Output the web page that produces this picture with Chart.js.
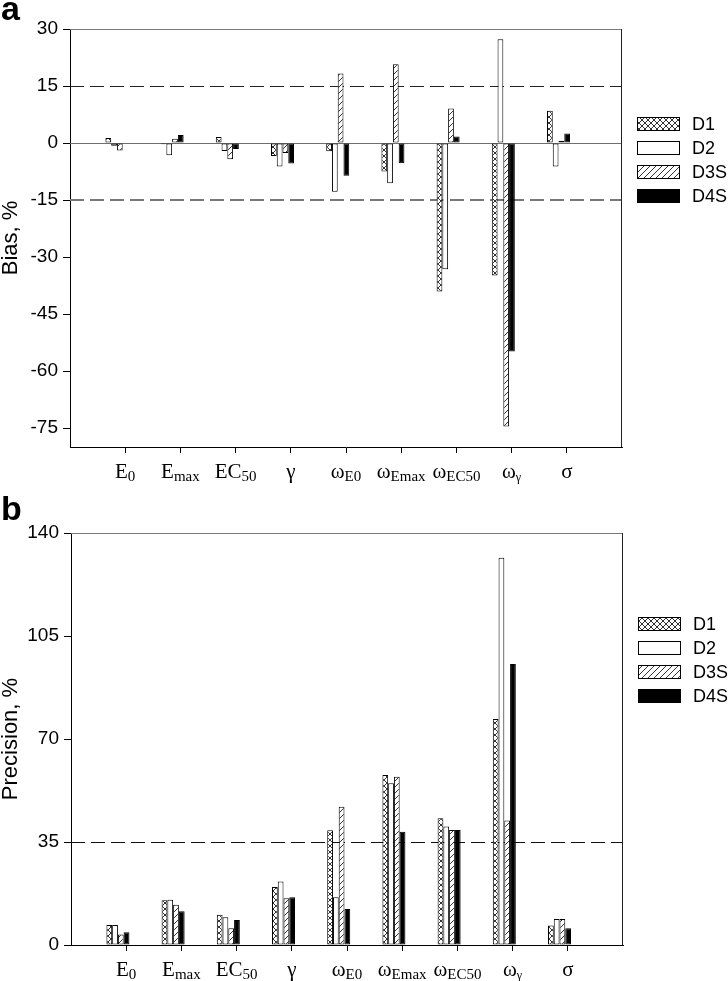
<!DOCTYPE html>
<html>
<head>
<meta charset="utf-8">
<script src="https://cdn.jsdelivr.net/npm/chart.js@4.4.0/dist/chart.umd.min.js"></script>
<style>
  html, body { margin: 0; padding: 0; background: #fff; }
  #wrap { position: relative; width: 728px; height: 981px; }
  canvas { position: absolute; left: 0; }
  #biasChart { top: 0; }
  #precChart { top: 480px; }
</style>
</head>
<body>
<div id="wrap">
  <canvas id="biasChart" width="728" height="490"></canvas>
  <canvas id="precChart" width="728" height="501"></canvas>
</div>
<script>
/* ===== data ===== */
const catMain = ["E", "E", "EC", "γ", "ω", "ω", "ω", "ω", "σ"];
const catSub = ["0", "max", "50", "", "E0", "Emax", "EC50", "γ", ""];
const seriesNames = ["D1", "D2", "D3S", "D4S"];

// panel a: bias, %
const biasD1 = [1.3, -0.3, 1.6, -3.4, -2.2, -7.5, -39.1, -34.9, 8.5];
const biasD2 = [-0.7, -3.2, -2.1, -6.2, -12.8, -10.6, -33.2, 27.3, -6.2];
const biasD3S = [-2.0, 1.1, -4.3, -2.6, 18.3, 20.7, 9.1, -74.6, 0.6];
const biasD4S = [0, 2.1, -1.6, -5.4, -8.6, -5.3, 1.7, -54.9, 2.5];
const biasTicks = [-75, -60, -45, -30, -15, 0, 15, 30];
const biasRefs = [15, -15];

// panel b: precision, %
const precD1 = [6.8, 15.2, 10.3, 19.7, 39.0, 57.8, 43.1, 76.8, 6.6];
const precD2 = [6.8, 15.4, 9.4, 21.6, 16.2, 55.0, 40.3, 131.6, 8.8];
const precD3S = [3.6, 13.7, 5.7, 15.9, 47.0, 57.2, 39.1, 42.3, 8.8];
const precD4S = [4.3, 11.5, 8.5, 16.2, 12.2, 38.5, 39.1, 95.5, 5.7];
const precTicks = [0, 35, 70, 105, 140];
const precRefs = [35];

/* ===== fills ===== */
function makePattern(kind) {
    const c = document.createElement("canvas");
    c.width = c.height = 6;
    const g = c.getContext("2d");
    g.fillStyle = "#fff";
    g.fillRect(0, 0, 6, 6);
    g.strokeStyle = "#000";
    g.lineWidth = 0.8;
    g.beginPath();
    g.moveTo(0, 6); g.lineTo(6, 0);
    g.moveTo(-1, 1); g.lineTo(1, -1);
    g.moveTo(5, 7); g.lineTo(7, 5);
    if (kind === "cross") {
        g.moveTo(0, 0); g.lineTo(6, 6);
        g.moveTo(-1, 5); g.lineTo(1, 7);
        g.moveTo(5, -1); g.lineTo(7, 1);
    }
    g.stroke();
    return g.createPattern(c, "repeat");
}
const fills = [makePattern("cross"), "#ffffff", makePattern("hatch"), "#000000"];

const SANS = "'Liberation Sans', Arial, sans-serif";
const SERIF = "'Liberation Serif', 'Times New Roman', serif";

/* ===== frame, ref lines, axis labels, legend ===== */
const panelDeco = {
    id: "panelDeco",
    beforeDatasetsDraw(chart, args, o) {
        const { ctx, chartArea: a, scales: { y } } = chart;
        ctx.save();
        if (o.zeroLine) {
            const py = Math.round(y.getPixelForValue(0)) + 0.5;
            ctx.strokeStyle = "#6e6e6e";
            ctx.lineWidth = 1;
            ctx.beginPath();
            ctx.moveTo(a.left, py);
            ctx.lineTo(a.right, py);
            ctx.stroke();
        }
        o.refs.forEach((v, i) => {
            const w = o.refWidths[i];
            let py = Math.round(y.getPixelForValue(v));
            if (w % 2 === 1) py += 0.5;
            ctx.strokeStyle = o.refColors[i];
            ctx.lineWidth = w;
            ctx.setLineDash([14, 6]);
            ctx.beginPath();
            ctx.moveTo(a.left, py);
            ctx.lineTo(a.right, py);
            ctx.stroke();
        });
        ctx.restore();
    },
    afterDraw(chart, args, o) {
        const { ctx, chartArea: a, scales: { x } } = chart;
        ctx.save();

        // top and right frame
        ctx.lineWidth = 1;
        ctx.strokeStyle = "#777";
        ctx.beginPath();
        ctx.moveTo(a.left, a.top + 0.5);
        ctx.lineTo(a.right, a.top + 0.5);
        ctx.stroke();
        ctx.strokeStyle = "#222";
        ctx.beginPath();
        ctx.moveTo(a.right - 0.5, a.top);
        ctx.lineTo(a.right - 0.5, a.bottom);
        ctx.stroke();

        // category labels with subscripts
        ctx.fillStyle = "#000";
        ctx.textBaseline = "alphabetic";
        ctx.textAlign = "left";
        const base = a.bottom + 31;
        catMain.forEach((m, i) => {
            const sub = catSub[i];
            const subSize = sub === "γ" ? 12 : 15;
            ctx.font = "21px " + SERIF;
            const mw = ctx.measureText(m).width;
            ctx.font = subSize + "px " + SERIF;
            const sw = sub ? ctx.measureText(sub).width : 0;
            const x0 = x.getPixelForValue(i + 1) - (mw + sw) / 2;
            ctx.font = "21px " + SERIF;
            ctx.fillText(m, x0, base);
            if (sub) {
                ctx.font = subSize + "px " + SERIF;
                ctx.fillText(sub, x0 + mw, base + 3);
            }
        });

        // legend
        const lx = a.right + 15;
        ctx.font = "18px " + SANS;
        ctx.textBaseline = "middle";
        chart.data.datasets.forEach((ds, i) => {
            const top = a.top + o.legendTop + i * 24;
            ctx.fillStyle = ds.backgroundColor;
            ctx.fillRect(lx, top, 43, 14);
            ctx.strokeStyle = "#000";
            ctx.lineWidth = 1;
            ctx.strokeRect(lx + 0.5, top + 0.5, 42, 13);
            ctx.fillStyle = "#000";
            ctx.fillText(ds.label, lx + 55, top + 8);
        });

        // panel letter
        ctx.font = "bold 34px " + SANS;
        ctx.textBaseline = "alphabetic";
        ctx.fillText(o.letter, 1, o.letterY);
        ctx.restore();
    }
};

function buildChart(id, cfg) {
    return new Chart(document.getElementById(id), {
        type: "bar",
        data: {
            datasets: seriesNames.map((name, s) => ({
                label: name,
                data: cfg.values[s].map((v, i) => ({ x: i + 1, y: v })),
                xAxisID: "xb",
                backgroundColor: fills[s],
                borderColor: "#000",
                borderWidth: 1,
                borderSkipped: false,
                categoryPercentage: 0.417,
                barPercentage: 1
            }))
        },
        options: {
            responsive: false,
            animation: false,
            events: [],
            layout: { padding: { top: cfg.top, right: cfg.right, left: 0, bottom: 0 } },
            plugins: {
                legend: { display: false },
                tooltip: { enabled: false },
                panelDeco: {
                    refs: cfg.refs,
                    refColors: cfg.refColors,
                    refWidths: cfg.refWidths,
                    zeroLine: cfg.zeroLine,
                    legendTop: cfg.legendTop,
                    letter: cfg.letter,
                    letterY: cfg.letterY
                }
            },
            scales: {
                // bars sit just left of the tick, as in the original
                xb: {
                    type: "linear", display: false, offset: false,
                    grid: { offset: false },
                    min: 0.15, max: 10.15
                },
                x: {
                    type: "linear",
                    position: "bottom",
                    offset: false,
                    min: 0,
                    max: 10,
                    afterBuildTicks: s => { s.ticks = catMain.map((c, i) => ({ value: i + 1 })); },
                    afterFit: s => { s.height = cfg.xHeight; },
                    ticks: { display: false },
                    grid: { offset: false, drawOnChartArea: false, tickLength: 6, tickColor: "#000" },
                    border: { display: true, color: "#000", width: 1 }
                },
                y: {
                    min: cfg.yMin,
                    max: cfg.yMax,
                    afterBuildTicks: s => { s.ticks = cfg.yTicks.map(v => ({ value: v })); },
                    afterFit: s => { s.width = cfg.yWidth; },
                    ticks: {
                        callback: v => String(v),
                        font: { family: SANS, size: 19 },
                        color: "#000",
                        padding: 5
                    },
                    grid: { drawOnChartArea: false, tickLength: 7, tickColor: "#000" },
                    border: { display: true, color: "#000", width: 1 },
                    title: {
                        display: true,
                        text: cfg.yTitle,
                        color: "#000",
                        font: { family: SANS, size: 22, lineHeight: 1 },
                        padding: { top: 0, bottom: 0 }
                    }
                }
            }
        },
        plugins: [panelDeco]
    });
}

buildChart("biasChart", {
    values: [biasD1, biasD2, biasD3S, biasD4S],
    yMin: -80, yMax: 30, yTicks: biasTicks, yTitle: "Bias, %",
    refs: biasRefs, refColors: ["#222", "#777"], refWidths: [1, 2],
    zeroLine: true,
    top: 29, right: 106, yWidth: 70, xHeight: 43,
    legendTop: 88, letter: "a", letterY: 20
});

buildChart("precChart", {
    values: [precD1, precD2, precD3S, precD4S],
    yMin: 0, yMax: 140, yTicks: precTicks, yTitle: "Precision, %",
    refs: precRefs, refColors: ["#111"], refWidths: [1],
    zeroLine: false,
    top: 53, right: 105, yWidth: 71, xHeight: 36,
    legendTop: 84, letter: "b", letterY: 40
});
</script>
</body>
</html>
